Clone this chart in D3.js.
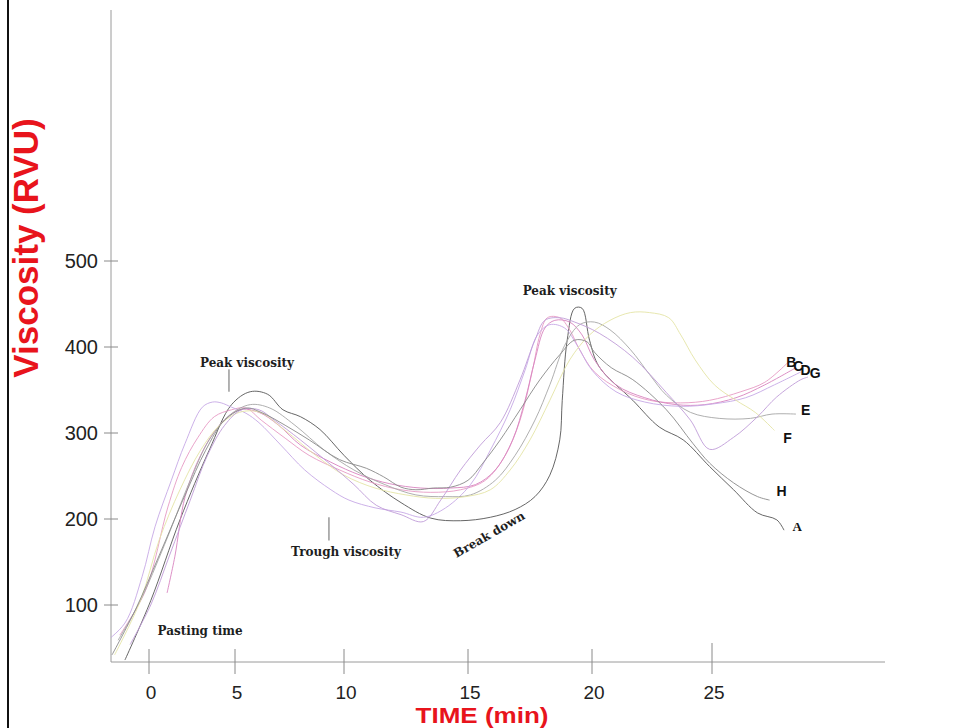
<!DOCTYPE html>
<html>
<head>
<meta charset="utf-8">
<script src="https://cdn.jsdelivr.net/npm/d3@7"></script>
<style>
  html, body { margin: 0; padding: 0; background: #fff; }
  svg { display: block; }
  .curve { fill: none; stroke-width: 1; stroke-linejoin: round; opacity: 0.9; }
  .note { font-family: "DejaVu Serif", "Liberation Serif", serif; font-weight: bold; font-size: 12px; fill: #1e1e1e; }
  .tick-label { font-family: "Liberation Sans", Arial, sans-serif; fill: #222; }
  .end-label { font-family: "Liberation Sans", Arial, sans-serif; font-weight: bold; font-size: 14px; fill: #111; }
  .title { font-family: "Liberation Sans", Arial, sans-serif; font-weight: bold; fill: #e8141c; }
</style>
</head>
<body>
<svg width="974" height="728"></svg>
<script>
// Tick values
const xTicks = [0, 5, 10, 15, 20, 25];
const yTicks = [100, 200, 300, 400, 500];

// Pasting curves, [time (min), viscosity (RVU)]
const curveA = [[-1.4,36],[0.1,105],[1.8,199],[3.5,280],[4.8,333],[5.7,348],[6.5,345],[7.2,327],[8.0,319],[8.9,304],[10.0,274],[11.05,245],[12.3,219],[13.5,201],[14.7,198],[15.9,202],[16.9,211],[17.7,226],[18.3,251],[18.7,292],[18.8,338],[19.0,408],[19.3,445],[19.6,445],[19.9,408],[20.3,377],[21.7,338],[22.8,307],[23.8,292],[24.9,261],[25.9,234],[26.9,207],[27.7,199],[28.0,187]];
const curveB = [[-1.7,65],[-0.2,117],[1.1,214],[1.9,260],[2.85,295],[3.8,319],[4.8,327],[5.5,329],[6.2,315],[7.3,294],[8.4,274],[9.8,257],[11.05,243],[12.3,234],[13.5,231],[14.7,234],[15.7,245],[16.5,274],[17.1,315],[17.6,373],[17.9,414],[18.2,434],[18.7,434],[19.1,420],[19.5,397],[20.1,371],[21.2,350],[22.4,338],[23.7,335],[24.9,338],[26.2,348],[27.2,359],[28.2,383]];
const curveC = [[1.05,114],[1.5,156],[2.1,226],[3.0,274],[4.1,309],[5.2,327],[6.1,324],[7.0,309],[8.0,286],[9.4,266],[10.65,251],[11.85,241],[13.1,236],[14.3,236],[15.3,240],[16.1,257],[16.8,292],[17.3,338],[17.7,385],[18.1,422],[18.5,431],[19.1,429],[19.6,414],[20.1,385],[21.0,356],[22.2,341],[23.5,333],[24.7,333],[26.0,341],[27.2,356],[28.5,376]];
const curveD = [[-2.6,56],[-1.4,79],[-0.4,133],[0.35,191],[1.3,245],[2.1,288],[3.1,330],[3.7,336],[4.2,335],[4.8,330],[5.5,323],[6.1,312],[7.1,286],[8.2,257],[9.4,234],[10.2,222],[11.25,213],[12.3,208],[13.2,202],[14.1,213],[15.1,240],[15.9,280],[16.7,327],[17.3,373],[17.8,414],[18.3,426],[18.9,422],[19.4,402],[20.0,373],[21.0,348],[22.2,336],[23.7,331],[25.1,334],[26.4,341],[27.6,356],[28.7,371]];
const curveE = [[-1.8,59],[-0.5,105],[0.9,170],[2.4,245],[3.5,292],[4.7,321],[5.7,333],[6.6,329],[7.75,309],[9.1,280],[10.4,257],[11.65,240],[12.9,228],[14.1,226],[15.1,228],[16.1,245],[16.9,274],[17.7,315],[18.3,356],[18.9,402],[19.5,426],[20.1,429],[20.75,420],[21.6,397],[22.4,368],[23.1,344],[24.1,324],[25.3,317],[26.6,317],[27.5,322],[28.5,322]];
const curveF = [[-2.0,42],[-0.5,105],[0.6,176],[1.8,234],[3.0,280],[4.1,309],[5.2,324],[6.15,324],[7.3,303],[8.7,274],[10.0,251],[11.25,236],[12.5,228],[13.7,224],[14.9,226],[15.9,234],[16.7,257],[17.5,292],[18.3,338],[19.1,385],[19.9,414],[20.75,431],[21.6,440],[22.4,440],[23.2,434],[23.7,414],[24.3,385],[25.1,356],[26.0,338],[26.8,324],[27.6,303]];
const curveG = [[-1.1,54],[0.1,100],[1.2,158],[2.4,222],[3.4,274],[4.4,309],[5.3,327],[6.1,327],[6.8,315],[8.0,292],[9.4,263],[10.4,240],[11.3,216],[12.3,205],[13.2,197],[13.9,222],[14.7,257],[15.5,286],[16.3,312],[17.1,362],[17.7,408],[18.1,431],[18.7,434],[19.3,429],[20.3,416],[21.7,388],[23.1,347],[24.1,315],[24.9,281],[25.9,295],[26.9,319],[27.7,342],[28.7,362],[29.0,365]];
const curveH = [[-2.15,42],[-0.8,94],[0.6,158],[2.1,228],[3.3,280],[4.4,315],[5.5,329],[6.2,324],[7.3,309],[8.4,292],[9.8,269],[10.9,259],[11.6,249],[12.3,237],[12.9,234],[13.6,236],[14.3,237],[15.0,245],[15.6,265],[16.3,292],[17.1,327],[17.9,362],[18.7,391],[19.3,408],[19.8,406],[20.1,394],[20.8,376],[21.7,362],[23.1,327],[24.2,288],[24.9,265],[25.9,242],[26.9,226],[27.4,222]];

const seriesNames = ['A', 'B', 'C', 'D', 'E', 'F', 'G', 'H'];
const seriesData = [curveA, curveB, curveC, curveD, curveE, curveF, curveG, curveH];
const seriesColors = ['#555555', '#e79ac4', '#d884c0', '#c6a8e6', '#a6a6a6', '#e4e4a6', '#c09cd8', '#8a8a8a'];

// where the sample letters sit (time, viscosity)
const labelT = [28.55, 28.3, 28.6, 28.9, 28.9, 28.15, 29.3, 27.9];
const labelV = [192, 383, 378, 373, 327, 294, 370, 233];

// annotations on the plot
const notes = [
  { text: 'Peak viscosity', t: 5.55, v: 377, angle: 0 },
  { text: 'Peak viscosity', t: 19.1, v: 461, angle: 0 },
  { text: 'Trough viscosity', t: 10.08, v: 157, angle: 0 },
  { text: 'Break down', t: 15.85, v: 182, angle: -30 },
  { text: 'Pasting time', t: 2.97, v: 65, angle: 0 }
];
const pointers = [
  { t: 4.65, v0: 374, v1: 348 },
  { t: 9.31, v0: 202, v1: 175 }
];

const svg = d3.select('svg');

// scales - the x axis of the original is not evenly spaced
const x = d3.scaleLinear().domain(xTicks).range([149, 235, 344, 468, 592, 712]);
const y = d3.scaleLinear().domain([100, 500]).range([605, 261]);

// frame line on the left
svg.append('line')
    .attr('x1', 8).attr('x2', 8).attr('y1', 0).attr('y2', 728)
    .attr('stroke', '#111').attr('stroke-width', 2);

// axes
const axisX0 = 111, axisX1 = 885, axisY0 = 10, axisY1 = 662;

svg.append('clipPath').attr('id', 'plot')
  .append('rect')
    .attr('x', axisX0).attr('y', axisY0)
    .attr('width', axisX1 - axisX0).attr('height', axisY1 - axisY0);

svg.append('line')
    .attr('x1', axisX0).attr('x2', axisX0).attr('y1', axisY0).attr('y2', axisY1)
    .attr('stroke', '#9a9a9a').attr('stroke-width', 1);
svg.append('line')
    .attr('x1', axisX0).attr('x2', axisX1).attr('y1', axisY1).attr('y2', axisY1)
    .attr('stroke', '#9a9a9a').attr('stroke-width', 1);

svg.selectAll('line.ytick')
    .data(yTicks)
    .enter().append('line')
    .attr('class', 'ytick')
    .attr('x1', axisX0 - 7).attr('x2', axisX0 + 7)
    .attr('y1', d => y(d)).attr('y2', d => y(d))
    .attr('stroke', '#8a8a8a');

svg.selectAll('text.ylab')
    .data(yTicks)
    .enter().append('text')
    .attr('class', 'tick-label ylab')
    .attr('x', 98).attr('y', d => y(d))
    .attr('dy', '0.36em')
    .attr('text-anchor', 'end')
    .style('font-size', '20px')
    .text(d => d);

svg.selectAll('line.xtick')
    .data(xTicks)
    .enter().append('line')
    .attr('class', 'xtick')
    .attr('x1', d => x(d)).attr('x2', d => x(d))
    .attr('y1', d => d === 25 ? 643 : 649).attr('y2', 674)
    .attr('stroke', '#8a8a8a');

svg.selectAll('text.xlab')
    .data(xTicks)
    .enter().append('text')
    .attr('class', 'tick-label xlab')
    .attr('x', d => x(d) + 2).attr('y', 699)
    .attr('text-anchor', 'middle')
    .style('font-size', '19px')
    .text(d => d);

// titles
svg.append('text')
    .attr('class', 'title')
    .attr('x', 482).attr('y', 723)
    .attr('text-anchor', 'middle')
    .style('font-size', '22px')
    .attr('textLength', 133)
    .attr('lengthAdjust', 'spacingAndGlyphs')
    .text('TIME (min)');

svg.append('text')
    .attr('class', 'title')
    .attr('transform', 'translate(38,248) rotate(-90)')
    .attr('text-anchor', 'middle')
    .style('font-size', '35px')
    .text('Viscosity (RVU)');

// curves
const line = d3.line()
    .x(d => x(d[0]))
    .y(d => y(d[1]))
    .curve(d3.curveCatmullRom.alpha(0.5));

svg.append('g')
    .attr('clip-path', 'url(#plot)')
  .selectAll('path.curve')
    .data(seriesData)
    .enter().append('path')
    .attr('class', 'curve')
    .attr('stroke', (d, i) => seriesColors[i])
    .attr('d', line);

// sample letters at the end of the curves
svg.selectAll('text.end-label')
    .data(seriesNames)
    .enter().append('text')
    .attr('class', 'end-label')
    .attr('x', (d, i) => x(labelT[i]))
    .attr('y', (d, i) => y(labelV[i]))
    .attr('dy', '0.36em')
    .attr('text-anchor', 'middle')
    .style('font-family', d => d === 'A' ? '"Liberation Serif", serif' : null)
    .style('font-size', d => d === 'A' ? '13px' : null)
    .text(d => d);

// annotations
svg.selectAll('line.pointer')
    .data(pointers)
    .enter().append('line')
    .attr('class', 'pointer')
    .attr('x1', d => x(d.t)).attr('x2', d => x(d.t))
    .attr('y1', d => y(d.v0)).attr('y2', d => y(d.v1))
    .attr('stroke', '#666');

svg.selectAll('text.note')
    .data(notes)
    .enter().append('text')
    .attr('class', 'note')
    .attr('text-anchor', 'middle')
    .attr('transform', d => `translate(${x(d.t)},${y(d.v)}) rotate(${d.angle})`)
    .attr('dy', d => d.angle ? '0.35em' : 0)
    .text(d => d.text);
</script>
</body>
</html>
